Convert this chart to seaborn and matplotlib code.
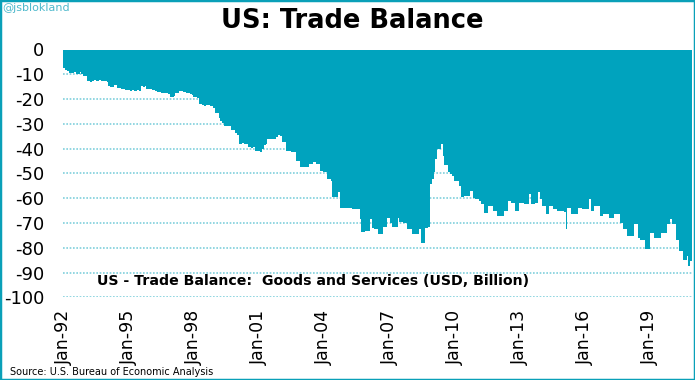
import numpy as np
import pandas as pd
import matplotlib.pyplot as plt
import seaborn as sns
from matplotlib.patches import Rectangle

# US goods & services trade balance, monthly, USD billion
y1992 = [-7.5, -8.3, -8.5, -9.3, -9.3, -9.3, -9.0, -9.7, -9.7, -9.0, -9.7, -10.7]
y1993 = [-10.7, -12.9, -12.6, -13.0, -12.7, -12.5, -12.9, -12.8, -12.5, -12.9, -12.6, -12.8]
y1994 = [-13.0, -14.7, -15.0, -15.3, -14.3, -14.4, -15.4, -15.4, -15.9, -15.9, -16.3, -16.4]
y1995 = [-16.4, -16.7, -16.5, -16.6, -16.8, -16.5, -16.6, -14.6, -15.0, -14.8, -15.9, -15.9]
y1996 = [-15.9, -16.5, -16.5, -16.8, -17.3, -17.3, -17.6, -17.6, -17.6, -17.6, -17.8, -19.1]
y1997 = [-19.1, -18.8, -17.6, -17.6, -16.8, -16.8, -17.3, -17.3, -17.6, -17.6, -17.9, -18.5]
y1998 = [-19.1, -19.1, -19.5, -22.0, -22.0, -22.5, -22.8, -22.2, -22.4, -22.9, -22.9, -23.5]
y1999 = [-25.8, -25.8, -27.5, -29.0, -29.5, -30.9, -30.9, -31.0, -30.9, -32.6, -32.6, -33.5]
y2000 = [-34.7, -38.0, -38.0, -37.8, -38.0, -38.2, -39.4, -39.4, -39.6, -39.4, -41.0, -41.0]
y2001 = [-41.0, -41.4, -40.0, -38.7, -38.0, -36.0, -36.0, -36.0, -36.0, -36.0, -35.5, -34.7]
y2002 = [-35.0, -37.4, -37.4, -40.8, -40.8, -41.0, -41.4, -41.4, -41.4, -44.8, -44.8, -47.5]
y2003 = [-47.5, -47.5, -47.5, -47.5, -46.2, -46.2, -45.5, -45.5, -46.2, -46.2, -48.9, -48.9]
y2004 = [-49.5, -49.5, -52.3, -52.3, -53.0, -59.7, -59.7, -59.7, -57.7, -64.0, -64.0, -64.0]
y2005 = [-64.0, -64.0, -64.0, -64.0, -64.5, -64.5, -64.5, -64.5, -68.5, -73.7, -73.7, -73.3]
y2006 = [-73.3, -73.3, -68.5, -71.9, -72.6, -72.6, -74.6, -74.6, -74.6, -71.5, -71.5, -68.0]
y2007 = [-68.0, -70.0, -71.5, -71.5, -71.5, -68.0, -69.5, -69.5, -70.0, -70.0, -72.6, -72.6]
y2008 = [-72.6, -74.6, -74.6, -74.6, -74.6, -72.6, -78.0, -78.0, -71.9, -71.9, -71.5, -54.3]
y2009 = [-52.3, -49.4, -44.0, -40.0, -40.0, -38.0, -43.0, -46.8, -46.8, -49.4, -50.2, -51.0]
y2010 = [-53.0, -53.0, -53.0, -55.0, -59.7, -59.7, -59.0, -59.0, -59.0, -57.0, -57.0, -60.0]
y2011 = [-60.4, -60.4, -61.0, -62.4, -62.4, -65.8, -65.8, -63.1, -63.1, -63.1, -65.0, -65.0]
y2012 = [-67.2, -67.2, -67.2, -67.2, -65.0, -65.0, -61.0, -61.0, -61.8, -61.8, -65.0, -65.0]
y2013 = [-61.8, -61.8, -61.8, -62.4, -62.4, -62.4, -58.4, -62.4, -62.4, -61.8, -61.8, -57.7]
y2014 = [-60.4, -63.1, -63.1, -66.5, -66.5, -63.1, -63.1, -64.5, -64.5, -65.0, -65.0, -65.0]
y2015 = [-65.0, -65.5, -72.6, -63.8, -63.8, -66.5, -66.5, -66.5, -66.5, -63.8, -63.8, -64.5]
y2016 = [-64.5, -64.5, -64.5, -60.4, -65.0, -65.0, -63.1, -63.1, -63.1, -67.2, -67.2, -66.5]
y2017 = [-66.5, -66.5, -67.8, -67.8, -67.8, -66.5, -66.5, -66.5, -69.9, -69.9, -72.6, -72.6]
y2018 = [-75.3, -75.3, -75.3, -75.3, -70.5, -70.5, -76.0, -76.7, -76.7, -76.7, -80.7, -80.7]
y2019 = [-80.7, -73.9, -73.9, -76.0, -76.0, -76.0, -76.0, -73.9, -73.9, -73.9, -70.5, -70.5]
y2020 = [-68.5, -70.5, -70.5, -76.7, -76.7, -81.4, -81.4, -84.8, -84.8, -83.4, -87.5, -85.5]

tick_labels = ['Jan-92', 'Jan-95', 'Jan-98', 'Jan-01', 'Jan-04', 'Jan-07',
               'Jan-10', 'Jan-13', 'Jan-16', 'Jan-19']
y_ticks = [0, -10, -20, -30, -40, -50, -60, -70, -80, -90, -100]

balance = (y1992 + y1993 + y1994 + y1995 + y1996 + y1997 + y1998 + y1999 + y2000 +
           y2001 + y2002 + y2003 + y2004 + y2005 + y2006 + y2007 + y2008 + y2009 +
           y2010 + y2011 + y2012 + y2013 + y2014 + y2015 + y2016 + y2017 + y2018 +
           y2019 + y2020)
df = pd.DataFrame({'month': np.arange(len(balance)), 'balance': balance})

teal = '#00a3be'

sns.set_style('white')
plt.rcParams['font.family'] = ['DejaVu Sans']
plt.rcParams['axes.unicode_minus'] = False
plt.rcParams['text.color'] = 'black'

fig = plt.figure(figsize=(6.95, 3.8), dpi=100)
ax = fig.add_axes([63.3 / 695, 1 - 297.3 / 380, (692 - 63.3) / 695, (297.3 - 49.5) / 380])

sns.barplot(data=df, x='month', y='balance', color=teal, saturation=1,
            width=1.0, linewidth=0, errorbar=None, ax=ax)

ax.set_xlim(-0.5, len(balance) - 0.5)
ax.set_ylim(-100, 0)
ax.set_xticks(np.arange(0, len(balance), 36), tick_labels, rotation=90)
ax.set_yticks(y_ticks, [str(v) for v in y_ticks])
ax.tick_params(axis='y', length=0, pad=13.5, labelsize=13, colors='black')
ax.tick_params(axis='x', length=0, pad=9, labelsize=12.5, colors='black')
ax.set_xlabel('')
ax.set_ylabel('')
ax.set_axisbelow(True)
ax.yaxis.grid(True, color='#7fcfdc', linestyle=(0, (1, 1)), linewidth=1.2)
ax.xaxis.grid(False)
for s in ax.spines.values():
    s.set_visible(False)

fig.text(352 / 695, 1 - 21 / 380, 'US: Trade Balance', fontsize=18.5,
         fontweight='bold', ha='center', va='center', color='black')
fig.text(97 / 695, 1 - 281 / 380, 'US - Trade Balance:  Goods and Services (USD, Billion)',
         fontsize=10.2, fontweight='bold', ha='left', va='center', color='black')
fig.text(10 / 695, 1 - 372 / 380, 'Source: U.S. Bureau of Economic Analysis',
         fontsize=7, ha='left', va='center', color='black')
fig.text(2 / 695, 1 - 8 / 380, '@jsblokland', fontsize=8, color='#4fb9cc',
         ha='left', va='center')

fig.patches.append(Rectangle((0, 0), 1, 1, transform=fig.transFigure, fill=False,
                             edgecolor='#0aa0b8', linewidth=2.5))

fig.savefig('out.png', dpi=100)
